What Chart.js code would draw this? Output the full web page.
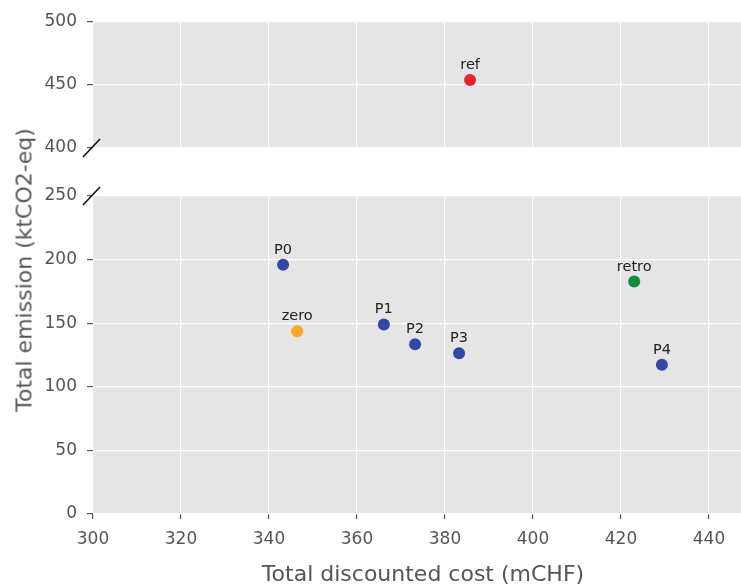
<!DOCTYPE html>
<html>
<head>
<meta charset="utf-8">
<script src="https://cdn.jsdelivr.net/npm/chart.js@4"></script>
<style>
  html, body { margin: 0; padding: 0; background: #fff; }
  #wrap { position: relative; width: 741px; height: 584px; overflow: hidden; }
  #topCanvas { position: absolute; left: 0; top: 0; }
  #botCanvas { position: absolute; left: 0; top: 180px; }
  #ytitle {
    position: absolute; left: 24px; top: 270px;
    transform: translate(-50%, -50%) rotate(-90deg);
    white-space: nowrap; font: 22px "DejaVu Sans", sans-serif; color: #555;
  }
</style>
</head>
<body>
<div id="wrap">
  <canvas id="topCanvas" width="753" height="165"></canvas>
  <canvas id="botCanvas" width="753" height="408"></canvas>
  <div id="ytitle">Total emission (ktCO2-eq)</div>
</div>
<script>
// Scenario results: cost vs. emission
const scenarios = ['ref', 'P0', 'zero', 'P1', 'P2', 'P3', 'retro', 'P4'];
const costs     = [385.7, 343.2, 346.4, 366.1, 373.2, 383.2, 423.0, 429.3];
const emissions = [454.0, 196.0, 143.7, 149.0, 133.5, 126.4, 182.7, 117.3];
const colours   = ['#e8222a', '#3447a8', '#f7a726', '#3447a8', '#3447a8', '#3447a8', '#148a3c', '#3447a8'];

// Axis ranges (y axis is broken between the two panels)
const xRange = [300, 450];
const xStep = 20;
const topRange = [400, 500];
const bottomRange = [0, 250];
const yStep = 50;

const TICK_FONT = { family: 'DejaVu Sans', size: 17 };
const AXIS_GREY = '#555';
const PANEL_BG = '#e5e5e5';

function panelPoints(range) {
  const pts = [], cols = [], names = [];
  costs.forEach((c, i) => {
    if (emissions[i] >= range[0] && emissions[i] <= range[1]) {
      pts.push({ x: c, y: emissions[i] });
      cols.push(colours[i]);
      names.push(scenarios[i]);
    }
  });
  return { pts, cols, names };
}

// Grey panel background
const panelBg = {
  id: 'panelBg',
  beforeDraw(chart) {
    const a = chart.chartArea, ctx = chart.ctx;
    ctx.save();
    ctx.fillStyle = PANEL_BG;
    ctx.fillRect(a.left, a.top, a.right - a.left, a.bottom - a.top);
    ctx.restore();
  }
};

// Scenario names above each point
const pointNames = {
  id: 'pointNames',
  afterDatasetsDraw(chart) {
    const ctx = chart.ctx;
    ctx.save();
    ctx.font = '14.5px "DejaVu Sans"';
    ctx.fillStyle = '#222';
    ctx.textAlign = 'center';
    ctx.textBaseline = 'alphabetic';
    chart.data.datasets.forEach((ds, di) => {
      chart.getDatasetMeta(di).data.forEach((el, i) => {
        ctx.fillText(ds.names[i], el.x, el.y - 11);
      });
    });
    ctx.restore();
  }
};

// Diagonal break marker on the y axis
const breakMark = {
  id: 'breakMark',
  afterDraw(chart, args, opts) {
    const a = chart.chartArea, ctx = chart.ctx;
    const y = opts.edge === 'bottom' ? a.bottom : a.top;
    const x = a.left - 1.5;
    ctx.save();
    ctx.strokeStyle = '#111';
    ctx.lineWidth = 1.6;
    ctx.beginPath();
    ctx.moveTo(x - 8.5, y + 9);
    ctx.lineTo(x + 8.5, y - 9);
    ctx.stroke();
    ctx.restore();
  }
};

function yAxis(range) {
  return {
    type: 'linear',
    min: range[0], max: range[1],
    afterFit(scale) {
      scale.width = 93;
      scale.paddingTop = 0;
      scale.paddingBottom = 0;
    },
    border: { display: false },
    grid: { color: '#fff', lineWidth: 1.2, tickColor: AXIS_GREY, tickLength: 6, drawTicks: true },
    ticks: { stepSize: yStep, color: AXIS_GREY, font: TICK_FONT, padding: 10 }
  };
}

// x axis of fixed height, without extra side padding
function xFit(height) {
  return function (scale) {
    scale.height = height;
    scale.paddingLeft = 0;
    scale.paddingRight = 0;
  };
}

function makeChart(canvasId, range, opts) {
  const d = panelPoints(range);
  return new Chart(document.getElementById(canvasId), {
    type: 'scatter',
    data: {
      datasets: [{
        data: d.pts,
        names: d.names,
        backgroundColor: d.cols,
        borderColor: d.cols,
        borderWidth: 0,
        pointRadius: 6,
        pointHoverRadius: 6
      }]
    },
    options: {
      responsive: false,
      animation: false,
      layout: { autoPadding: false, padding: { top: opts.padTop, left: 0, right: 0, bottom: 0 } },
      plugins: {
        legend: { display: false },
        tooltip: { enabled: false },
        breakMark: { edge: opts.edge }
      },
      scales: {
        x: opts.x,
        y: yAxis(range)
      }
    },
    plugins: [panelBg, pointNames, breakMark]
  });
}

// Upper panel: x grid only, no x labels
makeChart('topCanvas', topRange, {
  padTop: 22,
  edge: 'bottom',
  x: {
    type: 'linear', min: xRange[0], max: xRange[1],
    afterFit: xFit(17),
    border: { display: false },
    grid: { color: '#fff', lineWidth: 1.2, drawTicks: false },
    ticks: { stepSize: xStep, includeBounds: false, display: false }
  }
});

// Lower panel with the x axis
makeChart('botCanvas', bottomRange, {
  padTop: 16,
  edge: 'top',
  x: {
    type: 'linear', min: xRange[0], max: xRange[1],
    afterFit: xFit(74),
    border: { display: false },
    grid: { color: '#fff', lineWidth: 1.2, tickColor: AXIS_GREY, tickLength: 5, drawTicks: true },
    ticks: { stepSize: xStep, includeBounds: false, color: AXIS_GREY, font: TICK_FONT, padding: 10, maxRotation: 0 },
    title: {
      display: true,
      text: 'Total discounted cost (mCHF)',
      color: AXIS_GREY,
      font: { family: 'DejaVu Sans', size: 22 },
      padding: { top: 0, bottom: 0 }
    }
  }
});
</script>
</body>
</html>
